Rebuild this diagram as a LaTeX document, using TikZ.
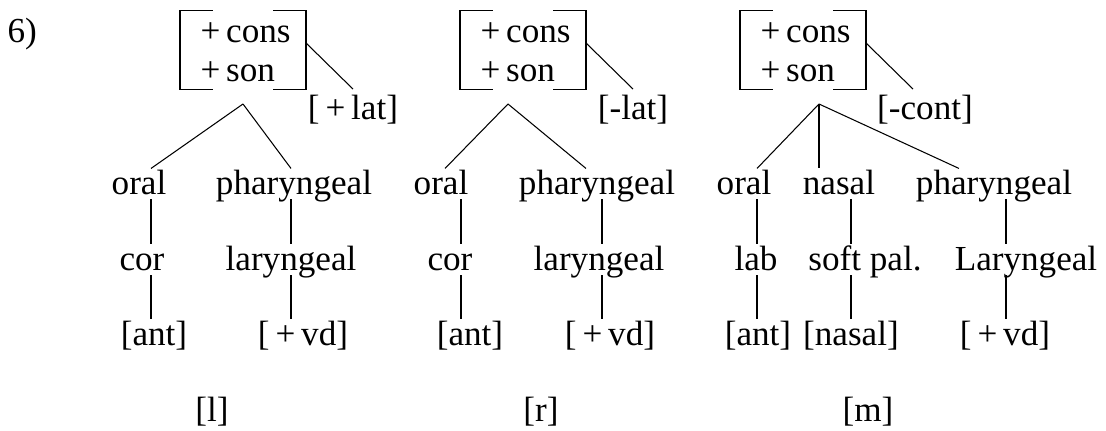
\documentclass[tikz,border=0pt]{standalone}
\usepackage{fontspec}
\setmainfont{Liberation Serif}
\usetikzlibrary{calc}
\tikzset{
    word/.style={inner xsep=0pt, inner ysep=2pt, text height=12.8pt, text depth=0pt, anchor=base},
    feat/.style={word, outer ysep=2.8pt},
    brackbox/.style={minimum width=2.5cm, minimum height=1.56cm, inner sep=0pt},
}
\begin{document}
\begin{tikzpicture}[x=0.02cm, y=-0.02cm, font=\fontsize{20}{24}\selectfont, line width=0.6pt]
    \useasboundingbox (0,0) rectangle (1106,431);
    \node[word, anchor=base west] (num) at (7,43) {6)};
    % feature boxes
    \foreach \n/\x in {A/243, B/523, C/803} {
        \node[brackbox] (box\n) at (\x,50) {};
        \node[word, anchor=base west] (cons\n) at (\x-43,43) {+\,cons};
        \node[word, anchor=base west] (son\n) at (\x-43,82) {+\,son};
        \draw ($(box\n.north west)+(33,0)$) -- (box\n.north west) -- (box\n.south west) -- ($(box\n.south west)+(33,0)$);
        \draw ($(box\n.north east)+(-33,0)$) -- (box\n.north east) -- (box\n.south east) -- ($(box\n.south east)+(-33,0)$);
    }
    % [l]
    \node[feat] (latA) at (353,120) {[\,+\,lat]};
    \draw (boxA.east |- consA.base) -- (latA.north);
    \coordinate (apexA) at (243,104);
    \coordinate (colA1) at (151,0);
    \coordinate (colA2) at (291,0);
    \node[word] (oralA) at (139,195) {oral};
    \node[word] (pharA) at (294,195) {pharyngeal};
    \node[word] (corA) at (142,271) {cor};
    \node[word] (larA) at (291,271) {laryngeal};
    \node[word] (antA) at (154,346) {[ant]};
    \node[word] (vdA) at (303,346) {[\,+\,vd]};
    \node[word] (segA) at (212,422) {[l]};
    \draw (apexA) -- (oralA.north -| colA1);
    \draw (apexA) -- (pharA.north -| colA2);
    \draw (oralA.south -| colA1) -- (corA.north -| colA1);
    \draw (corA.south -| colA1) -- (antA.north -| colA1);
    \draw (pharA.south -| colA2) -- (larA.north -| colA2);
    \draw (larA.south -| colA2) -- (vdA.north -| colA2);
    % [r]
    \node[feat] (latB) at (633,120) {[-lat]};
    \draw (boxB.east |- consB.base) -- (latB.north);
    \coordinate (apexB) at (508,104);
    \coordinate (tipB1) at (445,0);
    \coordinate (tipB2) at (586,0);
    \coordinate (colB1) at (461,0);
    \coordinate (colB2) at (602,0);
    \node[word] (oralB) at (441,195) {oral};
    \node[word] (pharB) at (597,195) {pharyngeal};
    \node[word] (corB) at (450,271) {cor};
    \node[word] (larB) at (599,271) {laryngeal};
    \node[word] (antB) at (470,346) {[ant]};
    \node[word] (vdB) at (610,346) {[\,+\,vd]};
    \node[word] (segB) at (541,422) {[r]};
    \draw (apexB) -- (oralB.north -| tipB1);
    \draw (apexB) -- (pharB.north -| tipB2);
    \draw (oralB.south -| colB1) -- (corB.north -| colB1);
    \draw (corB.south -| colB1) -- (antB.north -| colB1);
    \draw (pharB.south -| colB2) -- (larB.north -| colB2);
    \draw (larB.south -| colB2) -- (vdB.north -| colB2);
    % [m]
    \node[feat] (latC) at (925,120) {[-cont]};
    \coordinate (tipC0) at (913,0);
    \draw (boxC.east |- consC.base) -- (latC.north -| tipC0);
    \coordinate (apexC) at (819,104);
    \coordinate (tipC3) at (959,0);
    \coordinate (colC1) at (757,0);
    \coordinate (colC2) at (851,0);
    \coordinate (colC3) at (1006,0);
    \node[word] (oralC) at (744,195) {oral};
    \node[word] (nasC) at (839,195) {nasal};
    \node[word] (pharC) at (994,195) {pharyngeal};
    \node[word] (labC) at (756,271) {lab};
    \node[word] (softC) at (865,271) {soft pal.};
    \node[word] (larC) at (1026,271) {Laryngeal};
    \node[word] (antC) at (758,346) {[ant]};
    \node[word] (nasalC) at (851,346) {[nasal]};
    \node[word] (vdC) at (1005,346) {[\,+\,vd]};
    \node[word] (segC) at (868,422) {[m]};
    \draw (apexC) -- (oralC.north -| colC1);
    \draw (apexC) -- (nasC.north -| apexC);
    \draw (apexC) -- (pharC.north -| tipC3);
    \draw (oralC.south -| colC1) -- (labC.north -| colC1);
    \draw (labC.south -| colC1) -- (antC.north -| colC1);
    \draw (nasC.south -| colC2) -- (softC.north -| colC2);
    \draw (softC.south -| colC2) -- (nasalC.north -| colC2);
    \draw (pharC.south -| colC3) -- (larC.north -| colC3);
    \draw (larC.south -| colC3) -- (vdC.north -| colC3);
\end{tikzpicture}
\end{document}
